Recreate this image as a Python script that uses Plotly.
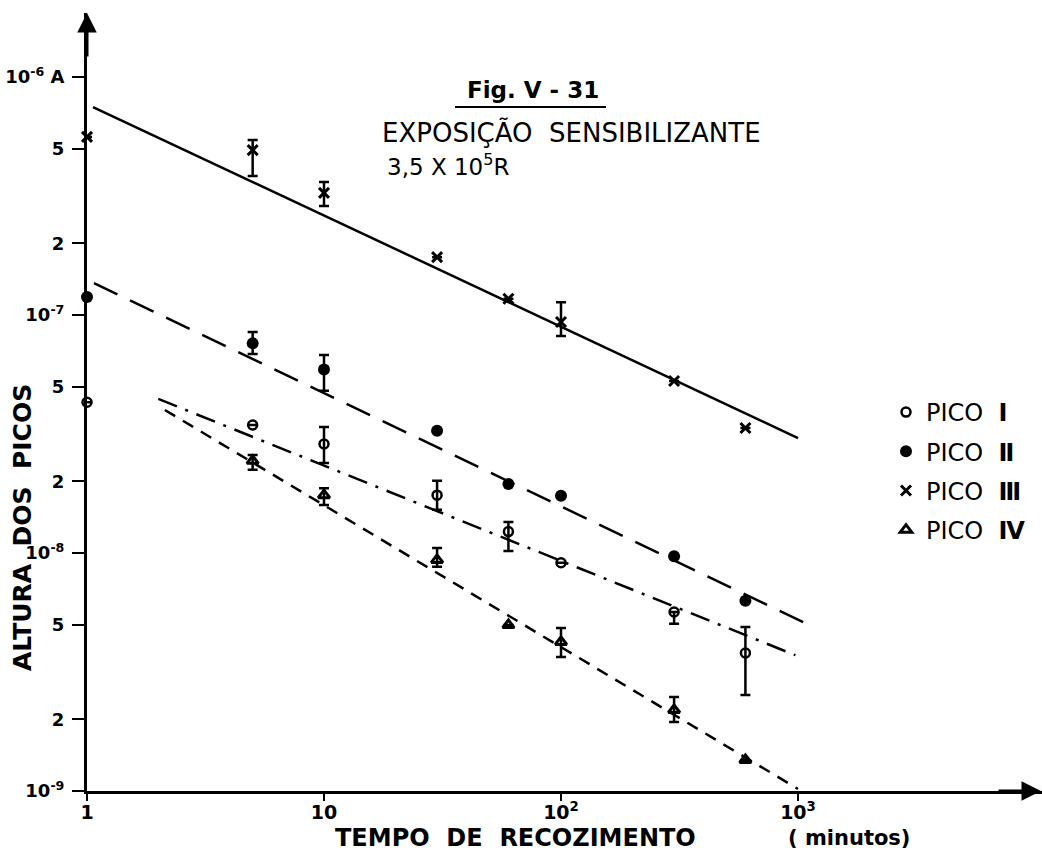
import plotly.graph_objects as go

# ---- data ----
x_I = [1, 5, 10, 30, 60, 100, 300, 600]
y_I = [4.3e-8, 3.45e-8, 2.87e-8, 1.75e-8, 1.23e-8, 9.1e-9, 5.65e-9, 3.8e-9]
ep_I = [0, 0, 0.51e-8, 0.26e-8, 0.12e-8, 0, 0, 1.09e-9]
em_I = [0, 0, 0.48e-8, 0.23e-8, 0.21e-8, 0, 0.61e-9, 1.27e-9]

x_II = [1, 5, 10, 30, 60, 100, 300, 600]
y_II = [1.19e-7, 7.6e-8, 5.9e-8, 3.26e-8, 1.95e-8, 1.74e-8, 9.7e-9, 6.3e-9]
ep_II = [0, 0.89e-8, 0.89e-8, 0, 0, 0, 0, 0]
em_II = [0, 0.74e-8, 1.1e-8, 0, 0, 0, 0, 0]

x_III = [1, 5, 10, 30, 60, 100, 300, 600]
y_III = [5.6e-7, 4.93e-7, 3.26e-7, 1.75e-7, 1.17e-7, 9.35e-8, 5.28e-8, 3.35e-8]
ep_III = [0, 0.5e-7, 0.36e-7, 0, 0, 1.95e-8, 0, 0]
em_III = [0, 1.09e-7, 0.39e-7, 0, 0, 1.18e-8, 0, 0]

x_IV = [5, 10, 30, 60, 100, 300, 600]
y_IV = [2.44e-8, 1.75e-8, 9.35e-9, 4.98e-9, 4.23e-9, 2.19e-9, 1.35e-9]
ep_IV = [0.14e-8, 0.12e-8, 1.15e-9, 0, 0.61e-9, 0.29e-9, 0]
em_IV = [0.2e-8, 0.16e-8, 0.6e-9, 0, 0.57e-9, 0.24e-9, 0]

# fitted straight lines (end points)
fit_I_x = [2.0, 975]
fit_I_y = [4.44e-8, 3.72e-9]
fit_II_x = [1.07, 1070]
fit_II_y = [1.36e-7, 5.08e-9]
fit_III_x = [1.06, 1000]
fit_III_y = [7.48e-7, 3.04e-8]
fit_IV_x = [2.13, 1000]
fit_IV_y = [3.99e-8, 1.02e-9]

x_tickvals = [1, 10, 100, 1000]
x_ticktext = ["1", "10", "10<sup>2</sup>", "10<sup>3</sup>"]
y_tickvals = [1e-9, 2e-9, 5e-9, 1e-8, 2e-8, 5e-8, 1e-7, 2e-7, 5e-7, 1e-6]
y_ticktext = ["10<sup>-9</sup>", "2", "5", "10<sup>-8</sup>", "2", "5",
              "10<sup>-7</sup>", "2", "5", "10<sup>-6</sup> A"]

names = ["PICO  <b>Ⅰ</b>", "PICO  <b>Ⅱ</b>", "PICO  <b>Ⅲ</b>", "PICO  <b>Ⅳ</b>"]

FONT = "DejaVu Sans"
fig = go.Figure()

# fit lines
fig.add_trace(go.Scatter(x=fit_III_x, y=fit_III_y, mode="lines", showlegend=False,
                         line=dict(color="black", width=2.5)))
fig.add_trace(go.Scatter(x=fit_II_x, y=fit_II_y, mode="lines", showlegend=False,
                         line=dict(color="black", width=2.5, dash="26px,14px")))
fig.add_trace(go.Scatter(x=fit_I_x, y=fit_I_y, mode="lines", showlegend=False,
                         line=dict(color="black", width=2.5, dash="20px,9px,3px,9px")))
fig.add_trace(go.Scatter(x=fit_IV_x, y=fit_IV_y, mode="lines", showlegend=False,
                         line=dict(color="black", width=2.5, dash="12px,9px")))


def err(p, m):
    return dict(type="data", symmetric=False, array=p, arrayminus=m,
                color="black", thickness=2.5, width=5)


fig.add_trace(go.Scatter(x=x_I, y=y_I, mode="markers", name=names[0], legendgroup="a",
                         error_y=err(ep_I, em_I), cliponaxis=False,
                         marker=dict(symbol="circle-open", size=9, color="black",
                                     line=dict(width=2.5, color="black"))))
fig.add_trace(go.Scatter(x=x_II, y=y_II, mode="markers", name=names[1], legendgroup="b",
                         error_y=err(ep_II, em_II), cliponaxis=False,
                         marker=dict(symbol="circle", size=12, color="black")))
fig.add_trace(go.Scatter(x=x_III, y=y_III, mode="markers", name=names[2], legendgroup="c",
                         error_y=err(ep_III, em_III), cliponaxis=False,
                         marker=dict(symbol="x-thin", size=10, color="black",
                                     line=dict(width=3, color="black"))))
fig.add_trace(go.Scatter(x=x_IV, y=y_IV, mode="markers", name=names[3], legendgroup="d",
                         error_y=err(ep_IV, em_IV), cliponaxis=False,
                         marker=dict(symbol="triangle-up-open", size=10, color="black",
                                     line=dict(width=3, color="black"))))

L, T, W, H = 87, 13, 955, 778


def px(xp):
    return (xp - L) / W


def py(yp):
    return (T + H - yp) / H


def txt(text, x, y, size, bold=False, xanchor="center", angle=0):
    f = dict(size=size, family=FONT, color="black")
    if bold:
        f["weight"] = "bold"
    return dict(text=text, x=px(x), y=py(y), xref="paper", yref="paper",
                xanchor=xanchor, yanchor="middle", textangle=angle,
                showarrow=False, font=f)


annotations = [
    txt("Fig. Ⅴ - 31", 533, 90, 23, bold=True),
    txt("EXPOSIÇÃO  SENSIBILIZANTE", 380, 132, 26, xanchor="left"),
    txt("3,5 X 10<sup>5</sup>R", 385, 165, 23, xanchor="left"),
    txt("TEMPO  DE  RECOZIMENTO", 515, 838, 24, bold=True),
    txt("( minutos)", 849, 838, 21, bold=True),
    txt("ALTURA  DOS  PICOS", 22, 528, 25, bold=True, angle=-90),
    # axis arrowheads
    dict(text="", x=0, y=1, xref="paper", yref="paper", ax=0, ay=45,
         showarrow=True, arrowhead=2, arrowsize=1.3, arrowwidth=3, arrowcolor="black"),
    dict(text="", x=1, y=0, xref="paper", yref="paper", ax=-45, ay=0,
         showarrow=True, arrowhead=2, arrowsize=1.3, arrowwidth=3, arrowcolor="black"),
]

shapes = [
    dict(type="line", xref="paper", yref="paper", x0=px(455), x1=px(606),
         y0=py(107), y1=py(107), line=dict(color="black", width=2)),
]

fig.update_layout(
    width=1042, height=852,
    margin=dict(l=L, r=1042 - L - W, t=T, b=852 - T - H),
    paper_bgcolor="white", plot_bgcolor="white",
    font=dict(family=FONT, color="black"),
    annotations=annotations, shapes=shapes,
    legend=dict(x=px(886), y=py(390), xanchor="left", yanchor="top",
                font=dict(size=24, family=FONT, color="black"),
                bgcolor="rgba(0,0,0,0)", tracegroupgap=5),
    xaxis=dict(type="log", range=[0, W / 237.0], showgrid=False, zeroline=False,
               showline=True, linecolor="black", linewidth=3,
               ticks="outside", ticklen=7, tickwidth=2, tickcolor="black",
               tickvals=x_tickvals, ticktext=x_ticktext, ticklabelstandoff=-5,
               tickfont=dict(size=19, family=FONT, color="black", weight="bold")),
    yaxis=dict(type="log", range=[-9, -9 + H / 238.0], showgrid=False, zeroline=False,
               showline=True, linecolor="black", linewidth=3,
               ticks="outside", ticklen=12, tickwidth=2, tickcolor="black",
               tickvals=y_tickvals, ticktext=y_ticktext, ticklabelstandoff=4,
               tickfont=dict(size=18, family=FONT, color="black", weight="bold")),
)

fig.write_html("out.html", post_script="document.body.style.margin='0';",
               config={"displayModeBar": False})
